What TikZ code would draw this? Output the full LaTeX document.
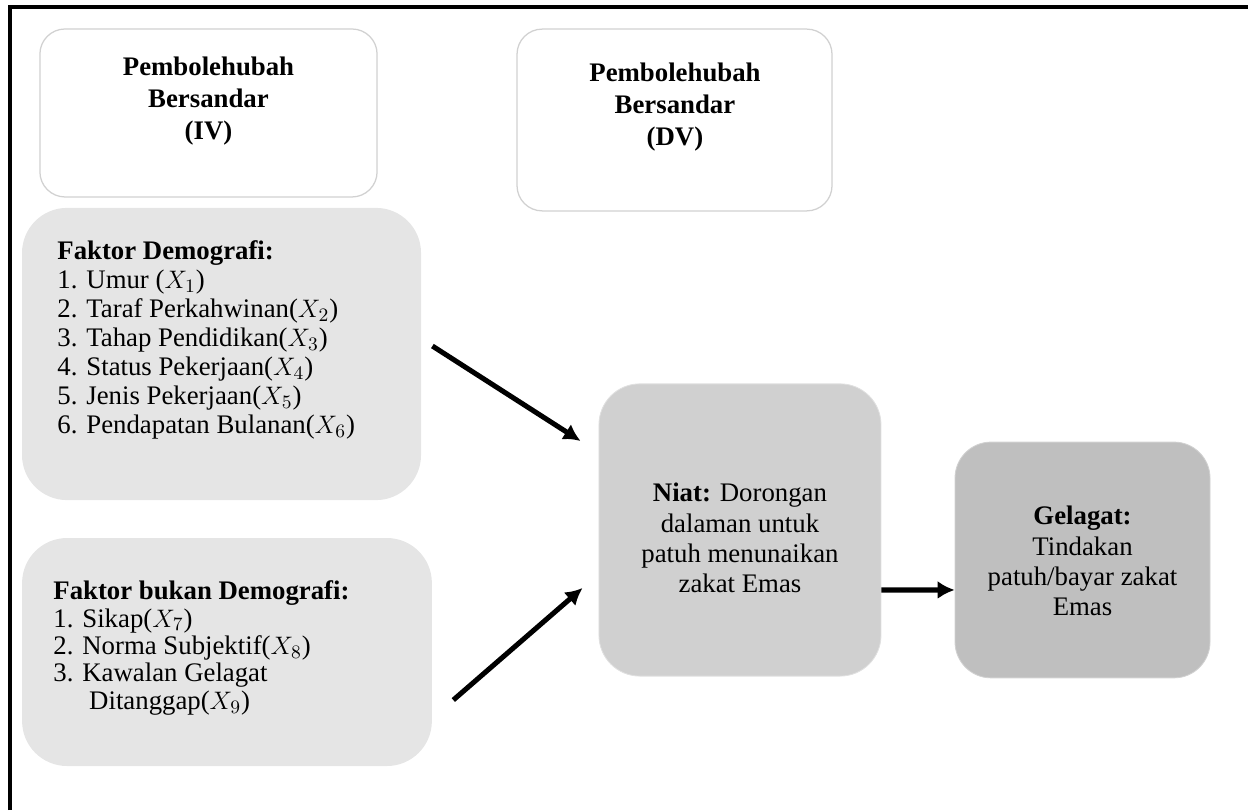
\documentclass[tikz,border=0pt]{standalone}
\usepackage{fontspec}
\setmainfont{Liberation Serif}
\usetikzlibrary{arrows.meta}

\begin{document}
\begin{tikzpicture}[
    varbox/.style={draw=black!18, line width=0.6pt, fill=white, rounded corners=0.42cm, inner sep=0pt},
    factorbox/.style={fill=black!10, rounded corners=0.75cm, inner sep=0pt},
    niatbox/.style={draw=black!12, fill=black!18.5, rounded corners=0.68cm, inner sep=0pt},
    gelagatbox/.style={draw=black!18, fill=black!25, rounded corners=0.6cm, inner sep=0pt},
    headtext/.style={font=\fontsize{12.7}{15}\selectfont\bfseries, align=center, inner sep=0pt},
    listtext/.style={font=\fontsize{12.7}{13.8}\selectfont, align=left, inner sep=0pt, anchor=west},
    boxtext/.style={font=\fontsize{12.7}{14.3}\selectfont, align=center, inner sep=0pt},
    arr/.style={line width=2.4pt, -{Latex[length=8pt,width=8.5pt]}}
]

    \useasboundingbox (0,0) rectangle (20.8,13.5);

    % frame
    \draw[line width=2pt] (0.167,0) -- (0.167,13.383) -- (20.8,13.383);

    % variable headings
    \node[varbox, minimum width=5.62cm, minimum height=2.8cm] (iv) at (3.475,11.617) {};
    \node[headtext] (ivtext) at (3.475,11.817) {Pembolehubah\\Bersandar\\(IV)};
    \node[varbox, minimum width=5.25cm, minimum height=3.03cm] (dv) at (11.242,11.5) {};
    \node[headtext] (dvtext) at (11.25,11.717) {Pembolehubah\\Bersandar\\(DV)};

    % factors
    \node[factorbox, minimum width=6.65cm, minimum height=4.87cm] (demo) at (3.692,7.6) {};
    \node[listtext] (demotext) at (0.95,7.833) {\textbf{Faktor Demografi:}\\
        1. Umur ($X_1$)\\
        2. Taraf Perkahwinan($X_2$)\\
        3. Tahap Pendidikan($X_3$)\\
        4. Status Pekerjaan($X_4$)\\
        5. Jenis Pekerjaan($X_5$)\\
        6. Pendapatan Bulanan($X_6$)};
    \node[factorbox, minimum width=6.83cm, minimum height=3.8cm] (bukan) at (3.783,2.633) {};
    \node[listtext, font=\fontsize{12.7}{13}\selectfont] (bukantext) at (0.883,2.7) {\textbf{Faktor bukan Demografi:}\\
        1. Sikap($X_7$)\\
        2. Norma Subjektif($X_8$)\\
        3. Kawalan Gelagat\\
        \hspace*{17pt}Ditanggap($X_9$)};

    % niat and gelagat
    \node[niatbox, minimum width=4.7cm, minimum height=4.87cm] (niat) at (12.333,4.667) {};
    \node[boxtext] (niattext) at (12.333,4.533) {\textbf{Niat:} Dorongan\\dalaman untuk\\patuh menunaikan\\zakat Emas};
    \node[gelagatbox, minimum width=4.25cm, minimum height=3.93cm] (gelagat) at (18.042,4.167) {};
    \node[boxtext] (gelagattext) at (18.042,4.15) {\textbf{Gelagat:}\\Tindakan\\patuh/bayar zakat\\Emas};

    % arrows
    \draw[arr] ([shift={(0.183,0.133)}]demo.east) -- ([shift={(-0.3,1.483)}]niat.west);
    \draw[arr] ([shift={(0.35,-0.8)}]bukan.east) -- ([shift={(-0.267,-0.967)}]niat.west);
    \draw[arr] ([yshift=-1cm]niat.east) -- ([yshift=-0.5cm]gelagat.west);

\end{tikzpicture}
\end{document}
